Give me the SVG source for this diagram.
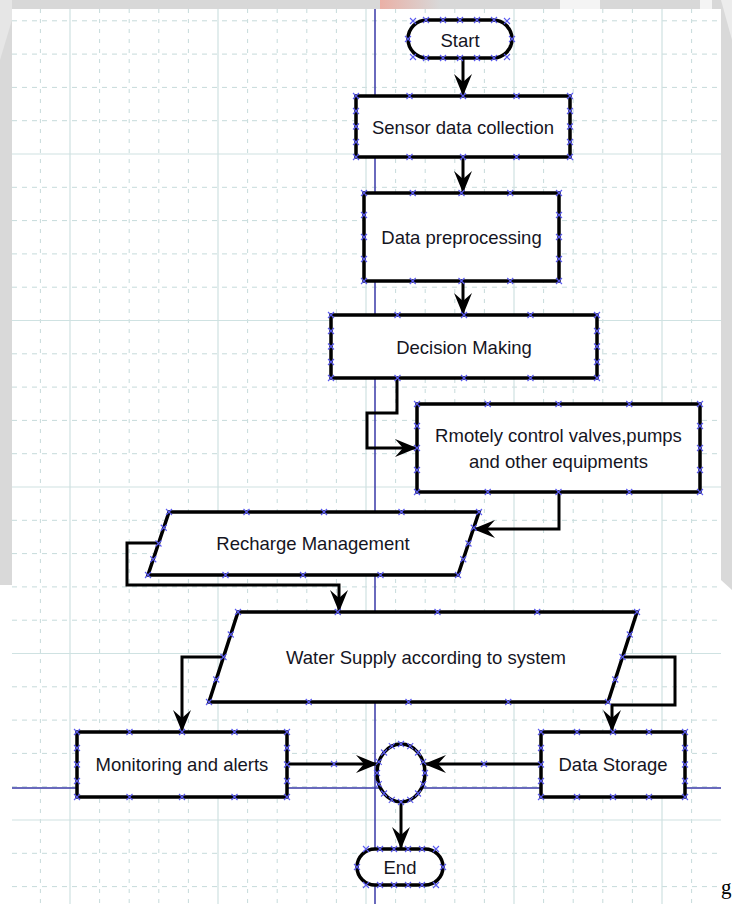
<svg xmlns="http://www.w3.org/2000/svg" xmlns:xlink="http://www.w3.org/1999/xlink" width="732" height="904" viewBox="0 0 732 904">
<style>
.gmin{stroke:#c6dbdb;stroke-width:1;fill:none}
.gh{stroke-dasharray:5,5}
.gv{stroke-dasharray:4,6}
.gmaj{stroke:#cfe2e2;stroke-width:1.2;fill:none}
.blue{stroke:#3a3aa8;stroke-width:1.5;fill:none}
.shape{fill:#fff;stroke:#000;stroke-width:3.5}
.conn{fill:none;stroke:#000;stroke-width:3}
.lbl{font-family:"Liberation Sans",Arial,sans-serif;font-size:18.5px;fill:#15151f;text-anchor:middle}
.xm{stroke:#5a5af0;stroke-width:1.1;fill:none}
</style>
<defs>
<marker id="ah" viewBox="-23 -10 24 20" markerWidth="24" markerHeight="20" refX="0" refY="0" orient="auto" markerUnits="userSpaceOnUse">
<path d="M0,0 L-22,-9 L-14,0 L-22,9 Z" fill="#000"/>
</marker>
<path id="xm" class="xm" d="M-3,-3L3,3M-3,3L3,-3"/>
<linearGradient id="pink" x1="0" x2="1" y1="0" y2="0">
<stop offset="0" stop-color="#eab0a6"/>
<stop offset="1" stop-color="#d8d8d8"/>
</linearGradient>
</defs>

<!-- page background / watermark -->
<rect x="0" y="0" width="732" height="904" fill="#ffffff"/>
<rect x="0" y="0" width="732" height="9" fill="#d8d8d8"/>
<rect x="380" y="0" width="60" height="9" fill="url(#pink)"/>
<rect x="560" y="0" width="40" height="9" fill="#f4f4f4"/>
<rect x="700" y="0" width="12" height="9" fill="#f4f4f4"/>
<polygon points="0,0 12,0 12,585 0,585" fill="#d9d9d9"/>
<polygon points="0,0 12,0 12,20 0,60" fill="#e6e6e6"/>
<polygon points="721,0 732,0 732,590 721,580" fill="#d9d9d9"/>
<polygon points="721,0 732,0 732,40" fill="#ececec"/>
<rect x="12" y="9" width="709" height="895" fill="#ffffff"/>

<!-- grid -->
<g id="grid">
<path class="gmin gh" d="M12,20.8H721M12,54.1H721M12,87.4H721M12,120.7H721M12,187.3H721M12,220.6H721M12,253.9H721M12,287.2H721M12,353.8H721M12,387.1H721M12,420.4H721M12,453.7H721M12,520.3H721M12,553.6H721M12,586.9H721M12,620.2H721M12,686.8H721M12,720.1H721M12,753.4H721M12,786.7H721M12,853.3H721M12,886.6H721"/>
<path class="gmin gv" d="M40.4,9V904M99.6,9V904M129.2,9V904M158.8,9V904M188.4,9V904M247.6,9V904M277.2,9V904M306.8,9V904M336.4,9V904M395.6,9V904M425.2,9V904M454.8,9V904M484.4,9V904M543.6,9V904M573.2,9V904M602.8,9V904M632.4,9V904M691.6,9V904"/>
<path class="gmaj" d="M12,154H721M12,320.5H721M12,487H721M12,653.5H721M12,820H721M70,9V904M218,9V904M366,9V904M514,9V904M662,9V904"/>
</g>
<g id="guides">
<path class="blue" d="M375,9V904M12,788H721"/>
</g>

<!-- nodes -->
<g id="start">
<rect class="shape" x="408" y="20" width="104" height="38" rx="19" ry="19"/>
<text class="lbl" x="460" y="46.5">Start</text>
</g>
<g id="sensor">
<rect class="shape" x="356" y="96" width="214" height="61"/>
<text class="lbl" x="463" y="134">Sensor data collection</text>
</g>
<g id="preprocess">
<rect class="shape" x="364" y="193" width="195" height="88"/>
<text class="lbl" x="461.5" y="244">Data preprocessing</text>
</g>
<g id="decision">
<rect class="shape" x="331" y="315" width="266" height="63"/>
<text class="lbl" x="464" y="354">Decision Making</text>
</g>
<g id="remote">
<rect class="shape" x="417" y="404" width="283" height="88"/>
<text class="lbl" x="558.5" y="442">Rmotely control valves,pumps</text>
<text class="lbl" x="558.5" y="468">and other equipments</text>
</g>
<g id="recharge">
<polygon class="shape" points="169,512 479,512 458,575 148,575"/>
<text class="lbl" x="313" y="550">Recharge Management</text>
</g>
<g id="supply">
<polygon class="shape" points="238,612 637,612 608,702 209,702"/>
<text class="lbl" x="426" y="664">Water Supply according to system</text>
</g>
<g id="monitoring">
<rect class="shape" x="77" y="732" width="210" height="65"/>
<text class="lbl" x="182" y="770.5">Monitoring and alerts</text>
</g>
<g id="storage">
<rect class="shape" x="541" y="732" width="144" height="65"/>
<text class="lbl" x="613" y="770.5">Data Storage</text>
</g>
<g id="junction">
<ellipse class="shape" cx="401" cy="773" rx="24" ry="29"/>
</g>
<g id="end">
<rect class="shape" x="357" y="849" width="86" height="36" rx="18" ry="18"/>
<text class="lbl" x="400" y="874">End</text>
</g>

<!-- connectors -->
<g id="connectors">
<path class="conn" marker-end="url(#ah)" d="M463,58V96"/>
<path class="conn" marker-end="url(#ah)" d="M463,157V193"/>
<path class="conn" marker-end="url(#ah)" d="M463,281V315"/>
<path class="conn" marker-end="url(#ah)" d="M397,378V413H367V448H417"/>
<path class="conn" marker-end="url(#ah)" d="M559,492V529H473"/>
<path class="conn" marker-end="url(#ah)" d="M159,543H127V585H339V612"/>
<path class="conn" marker-end="url(#ah)" d="M224,657H182V732"/>
<path class="conn" marker-end="url(#ah)" d="M622,657H675V705H612V732"/>
<path class="conn" marker-end="url(#ah)" d="M287,764H378"/>
<path class="conn" marker-end="url(#ah)" d="M541,764H424"/>
<path class="conn" marker-end="url(#ah)" d="M401,802V849"/>
</g>

<!-- connection point markers -->
<g id="points">
<use xlink:href="#xm" x="413" y="21"/><use xlink:href="#xm" x="426" y="20"/><use xlink:href="#xm" x="443" y="20"/><use xlink:href="#xm" x="460" y="20"/><use xlink:href="#xm" x="477" y="20"/><use xlink:href="#xm" x="494" y="20"/><use xlink:href="#xm" x="507" y="21"/>
<use xlink:href="#xm" x="413" y="57"/><use xlink:href="#xm" x="426" y="58"/><use xlink:href="#xm" x="443" y="58"/><use xlink:href="#xm" x="460" y="58"/><use xlink:href="#xm" x="477" y="58"/><use xlink:href="#xm" x="494" y="58"/><use xlink:href="#xm" x="507" y="57"/>
<use xlink:href="#xm" x="408" y="39"/><use xlink:href="#xm" x="512" y="39"/>

<use xlink:href="#xm" x="356" y="96"/><use xlink:href="#xm" x="409.5" y="96"/><use xlink:href="#xm" x="463" y="96"/><use xlink:href="#xm" x="516.5" y="96"/><use xlink:href="#xm" x="570" y="96"/>
<use xlink:href="#xm" x="356" y="157"/><use xlink:href="#xm" x="409.5" y="157"/><use xlink:href="#xm" x="463" y="157"/><use xlink:href="#xm" x="516.5" y="157"/><use xlink:href="#xm" x="570" y="157"/>
<use xlink:href="#xm" x="356" y="111"/><use xlink:href="#xm" x="356" y="126.5"/><use xlink:href="#xm" x="356" y="142"/><use xlink:href="#xm" x="570" y="111"/><use xlink:href="#xm" x="570" y="126.5"/><use xlink:href="#xm" x="570" y="142"/>

<use xlink:href="#xm" x="364" y="193"/><use xlink:href="#xm" x="412.75" y="193"/><use xlink:href="#xm" x="461.5" y="193"/><use xlink:href="#xm" x="510.25" y="193"/><use xlink:href="#xm" x="559" y="193"/>
<use xlink:href="#xm" x="364" y="281"/><use xlink:href="#xm" x="412.75" y="281"/><use xlink:href="#xm" x="461.5" y="281"/><use xlink:href="#xm" x="510.25" y="281"/><use xlink:href="#xm" x="559" y="281"/>
<use xlink:href="#xm" x="364" y="215"/><use xlink:href="#xm" x="364" y="237"/><use xlink:href="#xm" x="364" y="259"/><use xlink:href="#xm" x="559" y="215"/><use xlink:href="#xm" x="559" y="237"/><use xlink:href="#xm" x="559" y="259"/>

<use xlink:href="#xm" x="331" y="315"/><use xlink:href="#xm" x="397.5" y="315"/><use xlink:href="#xm" x="464" y="315"/><use xlink:href="#xm" x="530.5" y="315"/><use xlink:href="#xm" x="597" y="315"/>
<use xlink:href="#xm" x="331" y="378"/><use xlink:href="#xm" x="397.5" y="378"/><use xlink:href="#xm" x="464" y="378"/><use xlink:href="#xm" x="530.5" y="378"/><use xlink:href="#xm" x="597" y="378"/>
<use xlink:href="#xm" x="331" y="331"/><use xlink:href="#xm" x="331" y="346.5"/><use xlink:href="#xm" x="331" y="362"/><use xlink:href="#xm" x="597" y="331"/><use xlink:href="#xm" x="597" y="346.5"/><use xlink:href="#xm" x="597" y="362"/>

<use xlink:href="#xm" x="417" y="404"/><use xlink:href="#xm" x="487.75" y="404"/><use xlink:href="#xm" x="558.5" y="404"/><use xlink:href="#xm" x="629.25" y="404"/><use xlink:href="#xm" x="700" y="404"/>
<use xlink:href="#xm" x="417" y="492"/><use xlink:href="#xm" x="487.75" y="492"/><use xlink:href="#xm" x="558.5" y="492"/><use xlink:href="#xm" x="629.25" y="492"/><use xlink:href="#xm" x="700" y="492"/>
<use xlink:href="#xm" x="417" y="426"/><use xlink:href="#xm" x="417" y="448"/><use xlink:href="#xm" x="417" y="470"/><use xlink:href="#xm" x="700" y="426"/><use xlink:href="#xm" x="700" y="448"/><use xlink:href="#xm" x="700" y="470"/>

<use xlink:href="#xm" x="169" y="512"/><use xlink:href="#xm" x="246.5" y="512"/><use xlink:href="#xm" x="324" y="512"/><use xlink:href="#xm" x="401.5" y="512"/><use xlink:href="#xm" x="479" y="512"/>
<use xlink:href="#xm" x="148" y="575"/><use xlink:href="#xm" x="225.5" y="575"/><use xlink:href="#xm" x="303" y="575"/><use xlink:href="#xm" x="380.5" y="575"/><use xlink:href="#xm" x="458" y="575"/>
<use xlink:href="#xm" x="163.75" y="527.75"/><use xlink:href="#xm" x="158.5" y="543.5"/><use xlink:href="#xm" x="153.25" y="559.25"/><use xlink:href="#xm" x="473.75" y="527.75"/><use xlink:href="#xm" x="468.5" y="543.5"/><use xlink:href="#xm" x="463.25" y="559.25"/>

<use xlink:href="#xm" x="238" y="612"/><use xlink:href="#xm" x="337.75" y="612"/><use xlink:href="#xm" x="437.5" y="612"/><use xlink:href="#xm" x="537.25" y="612"/><use xlink:href="#xm" x="637" y="612"/>
<use xlink:href="#xm" x="209" y="702"/><use xlink:href="#xm" x="308.75" y="702"/><use xlink:href="#xm" x="408.5" y="702"/><use xlink:href="#xm" x="508.25" y="702"/><use xlink:href="#xm" x="608" y="702"/>
<use xlink:href="#xm" x="230.75" y="634.5"/><use xlink:href="#xm" x="223.5" y="657"/><use xlink:href="#xm" x="216.25" y="679.5"/><use xlink:href="#xm" x="629.75" y="634.5"/><use xlink:href="#xm" x="622.5" y="657"/><use xlink:href="#xm" x="615.25" y="679.5"/>

<use xlink:href="#xm" x="77" y="732"/><use xlink:href="#xm" x="129.5" y="732"/><use xlink:href="#xm" x="182" y="732"/><use xlink:href="#xm" x="234.5" y="732"/><use xlink:href="#xm" x="287" y="732"/>
<use xlink:href="#xm" x="77" y="797"/><use xlink:href="#xm" x="129.5" y="797"/><use xlink:href="#xm" x="182" y="797"/><use xlink:href="#xm" x="234.5" y="797"/><use xlink:href="#xm" x="287" y="797"/>
<use xlink:href="#xm" x="77" y="748"/><use xlink:href="#xm" x="77" y="764.5"/><use xlink:href="#xm" x="77" y="781"/><use xlink:href="#xm" x="287" y="748"/><use xlink:href="#xm" x="287" y="764.5"/><use xlink:href="#xm" x="287" y="781"/>

<use xlink:href="#xm" x="541" y="732"/><use xlink:href="#xm" x="577" y="732"/><use xlink:href="#xm" x="613" y="732"/><use xlink:href="#xm" x="649" y="732"/><use xlink:href="#xm" x="685" y="732"/>
<use xlink:href="#xm" x="541" y="797"/><use xlink:href="#xm" x="577" y="797"/><use xlink:href="#xm" x="613" y="797"/><use xlink:href="#xm" x="649" y="797"/><use xlink:href="#xm" x="685" y="797"/>
<use xlink:href="#xm" x="541" y="748"/><use xlink:href="#xm" x="541" y="764.5"/><use xlink:href="#xm" x="541" y="781"/><use xlink:href="#xm" x="685" y="748"/><use xlink:href="#xm" x="685" y="764.5"/><use xlink:href="#xm" x="685" y="781"/>

<use xlink:href="#xm" x="425" y="773"/><use xlink:href="#xm" x="423.2" y="784.1"/><use xlink:href="#xm" x="418" y="793.5"/><use xlink:href="#xm" x="410.2" y="799.8"/><use xlink:href="#xm" x="401" y="802"/><use xlink:href="#xm" x="391.8" y="799.8"/><use xlink:href="#xm" x="384" y="793.5"/><use xlink:href="#xm" x="378.8" y="784.1"/>
<use xlink:href="#xm" x="377" y="773"/><use xlink:href="#xm" x="378.8" y="761.9"/><use xlink:href="#xm" x="384" y="752.5"/><use xlink:href="#xm" x="391.8" y="746.2"/><use xlink:href="#xm" x="401" y="744"/><use xlink:href="#xm" x="410.2" y="746.2"/><use xlink:href="#xm" x="418" y="752.5"/><use xlink:href="#xm" x="423.2" y="761.9"/>

<use xlink:href="#xm" x="366" y="849"/><use xlink:href="#xm" x="380" y="849"/><use xlink:href="#xm" x="394" y="849"/><use xlink:href="#xm" x="408" y="849"/><use xlink:href="#xm" x="422" y="849"/><use xlink:href="#xm" x="436" y="849"/>
<use xlink:href="#xm" x="366" y="885"/><use xlink:href="#xm" x="380" y="885"/><use xlink:href="#xm" x="394" y="885"/><use xlink:href="#xm" x="408" y="885"/><use xlink:href="#xm" x="422" y="885"/><use xlink:href="#xm" x="436" y="885"/>
<use xlink:href="#xm" x="357" y="867"/><use xlink:href="#xm" x="443" y="867"/>

<use xlink:href="#xm" x="334" y="764"/><use xlink:href="#xm" x="484" y="764"/>
</g>

<text x="721" y="894" font-family="'Liberation Serif','Times New Roman',serif" font-size="21" fill="#000">g</text>
</svg>
